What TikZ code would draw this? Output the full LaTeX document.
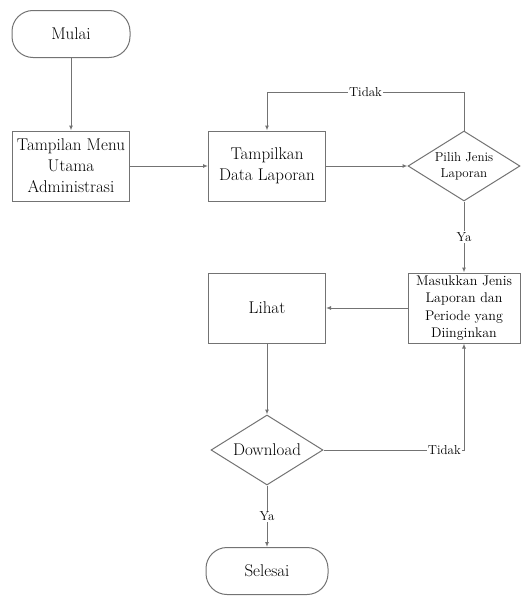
\documentclass[tikz,border=0pt]{standalone}
\usepackage{tikz}
\usetikzlibrary{arrows.meta,shapes.geometric}

\begin{document}
\begin{tikzpicture}[x=1pt, y=1pt, >={Latex[length=5pt,width=4pt]},
	line/.style={draw=gray!90!black, line width=1pt},
	flow/.style={line, ->},
	term/.style={line, rectangle, rounded corners=21pt, minimum width=118pt, minimum height=47pt, font=\fontsize{17}{21}\selectfont},
	proc/.style={line, rectangle, minimum width=117pt, minimum height=70pt, align=center, inner sep=1pt, font=\fontsize{17}{21}\selectfont},
	dec/.style={line, diamond, aspect=1.6, inner sep=0pt, minimum width=112pt, minimum height=70pt, align=center},
	lbl/.style={fill=white, inner sep=1pt, font=\fontsize{13}{15}\selectfont}]
	\useasboundingbox (0,0) rectangle (521,-597);

			\node[term] (mulai) at (71,-34) {Mulai};
			\node[proc] (menu) [below of=mulai, node distance=132pt] {Tampilan Menu\\Utama\\Administrasi};
			\node[proc] (data) [right of=menu, node distance=196pt] {Tampilkan\\Data Laporan};
			\node[dec, font=\fontsize{13}{16}\selectfont] (pilih) [right of=data, node distance=197pt] {Pilih Jenis\\Laporan};
			\node[proc, minimum width=112pt, font=\fontsize{14}{17.5}\selectfont, inner sep=0pt] (masuk) [below of=pilih, node distance=142pt] {Masukkan Jenis\\Laporan dan\\Periode yang\\Diinginkan};
			\node[proc] (lihat) [left of=masuk, node distance=197pt] {Lihat};
			\node[dec, font=\fontsize{17}{21}\selectfont] (download) [below of=lihat, node distance=142pt] {Download};
			\node[term, minimum width=122pt] (selesai) [below of=download, node distance=121pt] {Selesai};

			\draw[flow] (mulai) -- (menu);
			\draw[flow] (menu) -- (data);
			\draw[flow] (data) -- (pilih);
			\draw[flow] (pilih.north) -- ++(0,38) -| node[lbl, pos=0.25] {Tidak} (data.north);
			\draw[flow] (pilih) -- node[lbl] {Ya} (masuk);
			\draw[flow] (masuk) -- (lihat);
			\draw[flow] (lihat) -- (download);
			\draw[flow] (download.east) -| node[lbl, pos=0.43] {Tidak} (masuk.south);
			\draw[flow] (download) -- node[lbl] {Ya} (selesai);
		\end{tikzpicture}
\end{document}
